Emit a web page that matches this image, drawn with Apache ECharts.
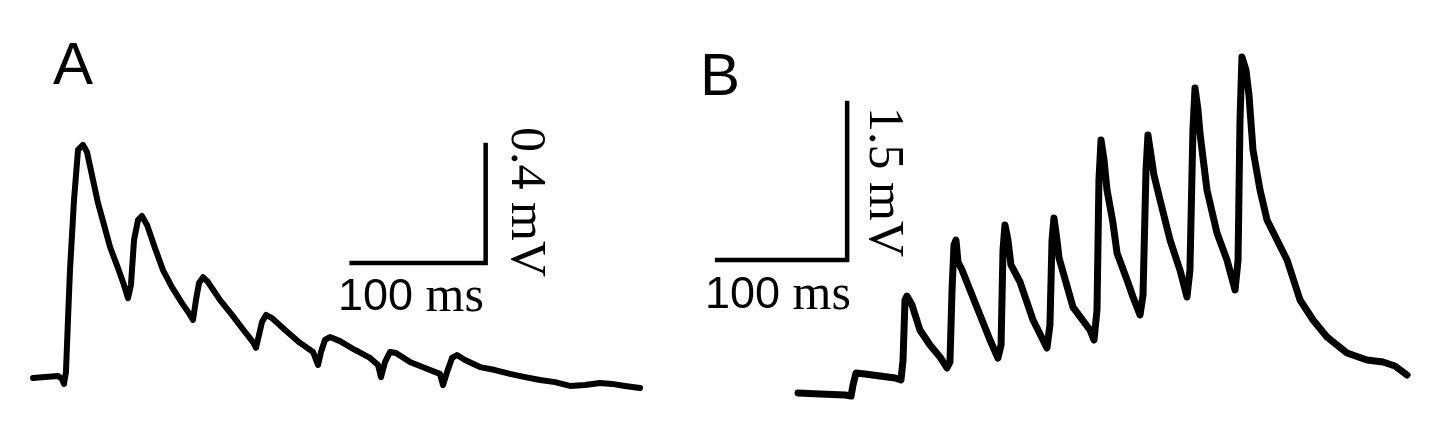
<!DOCTYPE html>
<html>
<head>
<meta charset="utf-8">
<script src="https://cdn.jsdelivr.net/npm/echarts@6/dist/echarts.min.js"></script>
<style>
html,body{margin:0;padding:0;background:#fff;}
#chart{width:1450px;height:433px;}
</style>
</head>
<body>
<div id="chart"></div>
<script>
// ---------------- DATA ----------------
// Panel A: time (ms) and membrane potential (mV, relative to baseline)
const tA = [0, 9.0, 18.7, 21.6, 23.1, 24.6, 26.1, 27.6, 30.6, 33.6, 37.3, 40.3, 44.0, 48.5, 53.0,
  57.5, 63.4, 67.9, 70.9, 73.1, 75.4, 78.4, 81.3, 85.1, 91.0, 97.0, 103.7, 111.2, 117.2, 119.4,
  121.6, 123.9, 126.9, 130.6, 139.6, 148.5, 158.2, 164.2, 166.4, 168.7, 170.9, 173.9, 178.4, 188.1, 199.3,
  209.0, 212.7, 214.9, 217.9, 221.6, 229.1, 240.3, 251.5, 257.5, 259.7, 262.7, 266.4, 270.9, 281.3, 292.5,
  303.7, 306.0, 309.0, 312.7, 316.4, 322.4, 333.6, 344.8, 356.0, 367.2, 378.4, 389.6, 400.7, 411.9, 423.1,
  432.1, 441.8, 453.0];
const vA = [0, 0.003, 0.007, -0.003, -0.020, 0.020, 0.197, 0.366, 0.603, 0.773, 0.790, 0.766, 0.688, 0.593, 0.519,
  0.444, 0.373, 0.315, 0.271, 0.315, 0.468, 0.536, 0.549, 0.519, 0.441, 0.366, 0.308, 0.254, 0.214, 0.197,
  0.264, 0.322, 0.342, 0.325, 0.264, 0.214, 0.156, 0.122, 0.102, 0.146, 0.190, 0.214, 0.203, 0.163, 0.119,
  0.088, 0.044, 0.088, 0.129, 0.139, 0.125, 0.095, 0.068, 0.044, 0.003, 0.054, 0.088, 0.085, 0.054, 0.034,
  0.014, -0.024, 0.020, 0.068, 0.078, 0.061, 0.037, 0.027, 0.014, 0.003, -0.007, -0.014, -0.027, -0.024, -0.017,
  -0.020, -0.027, -0.034];

// Panel B: time (ms) and membrane potential (mV, relative to baseline)
const tB = [0, 16.9, 36.2, 40.8, 42.3, 44.6, 51.5, 63.1, 74.6, 79.2, 80.8, 82.3, 83.8, 87.7, 93.8,
  101.5, 109.2, 114.6, 116.9, 118.5, 120.0, 121.5, 123.1, 126.2, 132.3, 140.0, 147.7, 153.8, 156.2, 157.7,
  159.2, 161.5, 163.8, 170.8, 180.8, 191.5, 193.8, 195.4, 196.9, 199.2, 200.8, 211.5, 224.6, 227.7, 230.0,
  231.5, 233.1, 235.4, 237.7, 242.3, 245.4, 253.1, 257.7, 263.1, 265.4, 267.7, 269.2, 271.5, 273.8, 278.5,
  286.2, 293.8, 299.2, 301.5, 303.8, 305.4, 307.7, 309.2, 314.6, 322.3, 330.0, 336.2, 338.5, 340.0, 341.5,
  344.6, 346.9, 350.0, 355.4, 360.8, 368.5, 376.2, 386.2, 396.2, 406.9, 422.3, 437.7, 450.0, 459.2, 468.5];
const vB = [0, -0.010, -0.019, -0.029, 0.076, 0.191, 0.181, 0.162, 0.143, 0.124, 0.315, 0.888, 0.926, 0.841, 0.602,
  0.458, 0.344, 0.239, 0.296, 0.984, 1.414, 1.461, 1.251, 1.175, 0.984, 0.745, 0.506, 0.334, 0.458, 1.366,
  1.605, 1.461, 1.223, 1.060, 0.697, 0.430, 0.649, 1.461, 1.671, 1.461, 1.289, 0.821, 0.602, 0.506, 0.793,
  2.034, 2.416, 2.225, 1.939, 1.624, 1.337, 1.079, 0.917, 0.745, 0.936, 2.130, 2.464, 2.273, 2.082, 1.843,
  1.461, 1.175, 0.917, 1.175, 2.512, 2.913, 2.703, 2.483, 1.939, 1.528, 1.270, 0.984, 1.270, 2.607, 3.209,
  3.085, 2.846, 2.321, 1.939, 1.652, 1.461, 1.270, 0.888, 0.697, 0.535, 0.382, 0.315, 0.296, 0.258, 0.172];

// Scale bars (values) and labels
const scaleMsA = 100, scaleMvA = 0.4;
const scaleMsB = 100, scaleMvB = 1.5;
const panelLabels = ['A', 'B'];
const timeUnit = 'ms', voltUnit = 'mV';

// ---------------- LAYOUT ----------------
const layA = {pxPerMs: 1.34, pxPerMv: 295, x0: 33, y0: 378, xmin: -5, xmax: 460, ymin: -0.15, ymax: 1.05,
  corner: [337.8, 0.39]};
const layB = {pxPerMs: 1.3, pxPerMv: 104.7, x0: 798, y0: 393, xmin: -80, xmax: 470, ymin: -0.3, ymax: 3.5,
  corner: [37.8, 1.27]};

function gridFor(l) {
  return {
    left: l.x0 + l.xmin * l.pxPerMs,
    top: l.y0 - l.ymax * l.pxPerMv,
    width: (l.xmax - l.xmin) * l.pxPerMs,
    height: (l.ymax - l.ymin) * l.pxPerMv,
    containLabel: false
  };
}
function axesFor(l, idx) {
  return {
    x: {type: 'value', gridIndex: idx, min: l.xmin, max: l.xmax, show: false, splitLine: {show: false}},
    y: {type: 'value', gridIndex: idx, min: l.ymin, max: l.ymax, show: false, splitLine: {show: false}}
  };
}
function zip(t, v) { return t.map((x, i) => [x, v[i]]); }
function scaleBar(l, ms, mv) {
  const c = l.corner;
  return [[c[0] - ms, c[1]], [c[0], c[1]], [c[0], c[1] + mv]];
}

const axA = axesFor(layA, 0), axB = axesFor(layB, 1);
const traceStyle = w => ({color: '#000', width: w, join: 'round', cap: 'round'});
const SANS = 'Liberation Sans';
const SERIF = 'Liberation Serif';

function timeLabel(x, y, ms) {
  return {type: 'text', x: x, y: y, style: {
    text: '{n|' + ms + '}{u| ' + timeUnit + '}', align: 'center', verticalAlign: 'middle', fill: '#000',
    rich: {n: {fontFamily: SANS, fontSize: 45, fill: '#000'},
           u: {fontFamily: SERIF, fontSize: 50, fill: '#000'}}}};
}
function voltLabel(x, y, mv) {
  return {type: 'text', x: x, y: y, rotation: -Math.PI / 2, style: {text: mv + ' ' + voltUnit,
    fontFamily: SERIF, fontSize: 50, fill: '#000', align: 'center', verticalAlign: 'middle'}};
}
function panelLabel(x, y, t) {
  return {type: 'text', x: x, y: y, style: {text: t, fontFamily: SANS, fontSize: 60,
    fill: '#000', align: 'center', verticalAlign: 'middle'}};
}

const option = {
  backgroundColor: '#fff',
  animation: false,
  grid: [gridFor(layA), gridFor(layB)],
  xAxis: [axA.x, axB.x],
  yAxis: [axA.y, axB.y],
  series: [
    {type: 'line', xAxisIndex: 0, yAxisIndex: 0, data: zip(tA, vA), symbol: 'none', clip: false,
      lineStyle: traceStyle(6)},
    {type: 'line', xAxisIndex: 1, yAxisIndex: 1, data: zip(tB, vB), symbol: 'none', clip: false,
      lineStyle: traceStyle(7)},
    {type: 'line', xAxisIndex: 0, yAxisIndex: 0, data: scaleBar(layA, scaleMsA, scaleMvA), symbol: 'none', clip: false,
      lineStyle: {color: '#000', width: 4.5, join: 'miter', cap: 'square'}},
    {type: 'line', xAxisIndex: 1, yAxisIndex: 1, data: scaleBar(layB, scaleMsB, scaleMvB), symbol: 'none', clip: false,
      lineStyle: {color: '#000', width: 4.5, join: 'miter', cap: 'square'}}
  ],
  graphic: [
    panelLabel(73, 67, panelLabels[0]),
    panelLabel(720, 78, panelLabels[1]),
    timeLabel(411, 298, scaleMsA),
    timeLabel(778, 296, scaleMsB),
    voltLabel(525, 202, scaleMvA),
    voltLabel(883, 182, scaleMvB)
  ]
};

const chart = echarts.init(document.getElementById('chart'), null, {renderer: 'canvas'});
chart.setOption(option);
</script>
</body>
</html>
